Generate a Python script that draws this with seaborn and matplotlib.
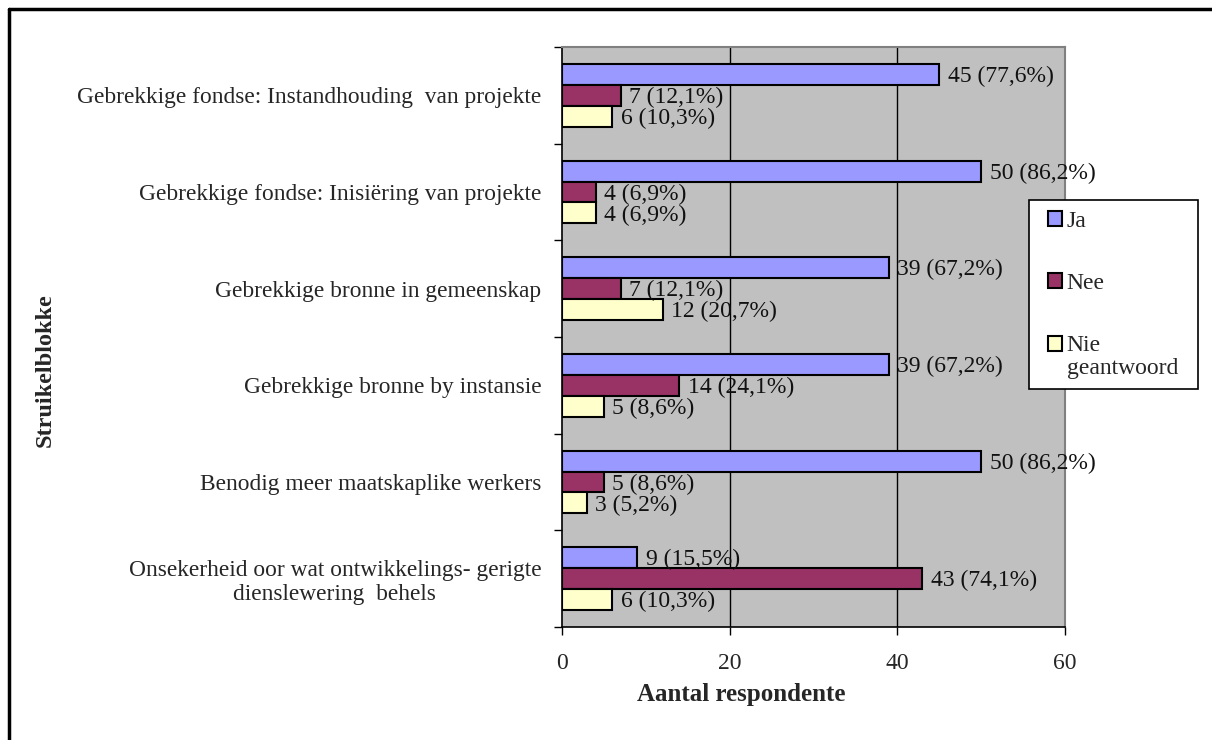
import matplotlib
matplotlib.use("Agg")
import matplotlib.pyplot as plt
from matplotlib.lines import Line2D
import seaborn as sns
import pandas as pd

# Survey results: obstacles experienced, number of respondents (n = 58)
categories = [
    "Gebrekkige fondse: Instandhouding  van projekte",
    "Gebrekkige fondse: Inisiëring van projekte",
    "Gebrekkige bronne in gemeenskap",
    "Gebrekkige bronne by instansie",
    "Benodig meer maatskaplike werkers",
    "Onsekerheid oor wat ontwikkelings- gerigte\ndienslewering  behels",
]
series = ["Ja", "Nee", "Nie geantwoord"]
ja = [45, 50, 39, 39, 50, 9]
nee = [7, 4, 7, 14, 5, 43]
nie = [6, 4, 12, 5, 3, 6]
ja_pct = ["77,6", "86,2", "67,2", "67,2", "86,2", "15,5"]
nee_pct = ["12,1", "6,9", "12,1", "24,1", "8,6", "74,1"]
nie_pct = ["10,3", "6,9", "20,7", "8,6", "5,2", "10,3"]
x_ticks = [0, 20, 40, 60]

colors = ["#9999FF", "#993366", "#FFFFCC"]

rows = []
for s, vals, pcts in zip(series, [ja, nee, nie], [ja_pct, nee_pct, nie_pct]):
    for c, v, p in zip(categories, vals, pcts):
        rows.append({"Struikelblok": c, "Antwoord": s, "Aantal": v,
                     "Etiket": f"{v} ({p}%)"})
df = pd.DataFrame(rows)

sns.set_theme(style="white")
plt.rcParams["font.family"] = ["Liberation Serif", "DejaVu Serif"]

W, H = 1212, 740
fig = plt.figure(figsize=(W / 100, H / 100), dpi=100)
ax = fig.add_axes([562 / W, 1 - 627 / H, (1065 - 562) / W, (627 - 47) / H])
ax.set_facecolor("#C0C0C0")

sns.barplot(data=df, y="Struikelblok", x="Aantal", hue="Antwoord",
            order=categories, hue_order=series, palette=colors,
            orient="h", width=0.65, gap=0, edgecolor="black", linewidth=1.5,
            saturation=1, ax=ax, zorder=3)

# value labels next to each bar
for container, s in zip(ax.containers, series):
    labs = df[df["Antwoord"] == s].set_index("Struikelblok").loc[categories, "Etiket"]
    for t in ax.bar_label(container, labels=list(labs), padding=6, fontsize=17,
                          color="#111111", zorder=5):
        x, y = t.xyann
        t.xyann = (x, y - 1.5)

ax.set_xlim(0, 60)
ax.set_ylim(len(categories) - 0.5, -0.5)
ax.set_xticks(x_ticks)
ax.set_xticklabels([str(t) for t in x_ticks], fontsize=17)
ax.tick_params(axis="x", direction="out", length=6, width=1, pad=13, color="black",
               bottom=True)
ax.set_yticks(range(len(categories)))
ax.set_yticklabels(categories, fontsize=16.8)
for lab in ax.get_yticklabels():
    lab.set_multialignment("center")
    lab.set_linespacing(1.2)
ax.tick_params(axis="y", which="major", length=0, pad=15)
ax.set_yticks([i - 0.5 for i in range(len(categories) + 1)], minor=True)
ax.tick_params(axis="y", which="minor", direction="out", length=6, width=1,
               color="black", left=True)

ax.grid(False)
for xv in x_ticks[1:-1]:
    ax.axvline(xv, color="black", linewidth=1, zorder=1)

for side in ["top", "right"]:
    ax.spines[side].set_color("#808080")
    ax.spines[side].set_linewidth(1.5)
for side in ["left", "bottom"]:
    ax.spines[side].set_color("black")
    ax.spines[side].set_linewidth(1.2)

ax.set_xlabel("")
ax.set_ylabel("")
fig.text(741 / W, 1 - 694 / H, "Aantal respondente", fontsize=18,
         fontweight="bold", ha="center", va="center")
fig.text(45 / W, 1 - 370 / H, "Struikelblokke", fontsize=17.5,
         fontweight="bold", ha="center", va="center", rotation=90)

handles, _ = ax.get_legend_handles_labels()
ax.get_legend().remove()
leg = fig.legend(handles, ["Ja", "Nee", "Nie\ngeantwoord"],
                 loc="upper left",
                 bbox_to_anchor=(1029 / W, 1 - 382 / H, 169 / W, 182 / H),
                 mode="expand", borderaxespad=0, fontsize=17,
                 handlelength=0.6, handleheight=0.6, handletextpad=0.55,
                 labelspacing=1.75, borderpad=0.45, fancybox=False,
                 framealpha=1, edgecolor="black")
leg.get_frame().set_linewidth(1.2)
for txt in leg.get_texts():
    txt.set_linespacing(1.1)
# indent the swatches; keep the last one level with the first line of its label
for hnd in leg.legend_handles:
    hnd.set_x(hnd.get_x() + 6)
last = leg.legend_handles[2]
last.set_y(last.get_y() + 9.5)

# outer frame (top and left edges)
fig.add_artist(Line2D([9 / W, 1], [1 - 9 / H, 1 - 9 / H],
                      transform=fig.transFigure, color="black", linewidth=2.5))
fig.add_artist(Line2D([9 / W, 9 / W], [0, 1 - 9 / H],
                      transform=fig.transFigure, color="black", linewidth=2.5))

fig.savefig("out.png", dpi=100, facecolor="white")
